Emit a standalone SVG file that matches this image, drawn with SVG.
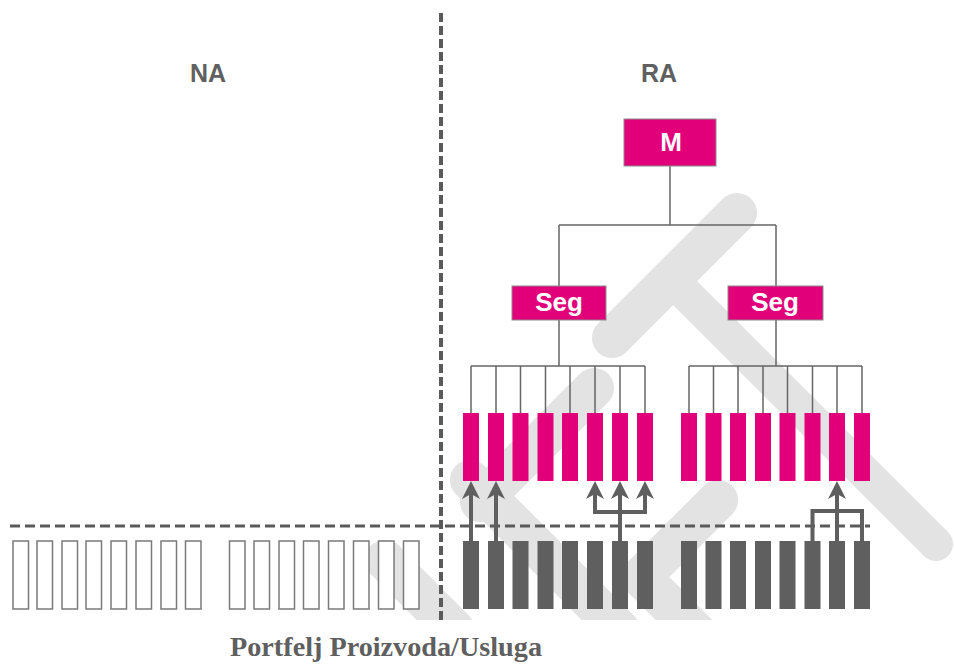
<svg xmlns="http://www.w3.org/2000/svg" width="954" height="664" viewBox="0 0 954 664">
<style>
.lbl{font-family:"Liberation Sans",Arial,sans-serif;font-weight:bold;text-anchor:middle}
.box{fill:#e2007a;stroke:#8c8c8c;stroke-width:1}
.pk{fill:#e2007a}
.dk{fill:#5f5f5f}
.ol{fill:#fff;stroke:#7a7a7a;stroke-width:1.5}
.tree{fill:none;stroke:#666;stroke-width:1.5}
.arr{fill:none;stroke:#5f5f5f;stroke-width:4}
.head{fill:#5f5f5f}
</style>
<defs>
<clipPath id="wmclip"><rect x="0" y="0" width="954" height="620"/></clipPath>
</defs>
<rect width="954" height="664" fill="#fff"/>
<g id="watermark" fill="none" stroke="#e3e3e3" stroke-width="40" stroke-linecap="round" stroke-linejoin="round" clip-path="url(#wmclip)">
<path d="M737,213 L612,338"/>
<path d="M670,278 L936,544" stroke-width="34"/>
<path d="M594,388 L480,502"/>
<path d="M470,480 L620,630"/>
<path d="M385,560 L455,630"/>
<path d="M718,500 L641,577 L700,636"/>
</g>
<g id="dividers" fill="none" stroke="#5a5a5a">
<path d="M441,13 V620" stroke-width="4" stroke-dasharray="9 4"/>
<path d="M10,526 H870" stroke-width="3" stroke-dasharray="10 5"/>
</g>
<g id="labels" fill="#606060">
<text class="lbl" x="208" y="82" font-size="25">NA</text>
<text class="lbl" x="659" y="82" font-size="25">RA</text>
</g>
<g id="connectors">
<path class="tree" d="M670,166 V225 M559,225 H776 M559,225 V286 M776,225 V286 M559,320 V366 M776,320 V366 M471,366 H645 M689,366 H862"/>
<path class="tree" d="M471,366 V413 M496,366 V413 M520.5,366 V413 M545.5,366 V413 M570,366 V413 M595,366 V413 M620,366 V413 M645,366 V413 M689,366 V413 M713.5,366 V413 M738,366 V413 M763,366 V413 M787.5,366 V413 M812.5,366 V413 M837,366 V413 M862,366 V413"/>
<path class="arr" d="M471,541 V492 M496,541 V492 M620,541 V492 M595,492 V512 H645 V492 M837,541 V492 M812.5,541 V511 H862 V541"/>
<path class="head" d="M471,481 L480,499 L471,494 L462,499 Z M496,481 L505,499 L496,494 L487,499 Z M595,481 L604,499 L595,494 L586,499 Z M620,481 L629,499 L620,494 L611,499 Z M645,481 L654,499 L645,494 L636,499 Z M837,481 L846,499 L837,494 L828,499 Z"/>
</g>
<g id="node-M"><rect class="box" x="624" y="119" width="92" height="47"/><text class="lbl" x="671" y="151" font-size="26" fill="#fff">M</text></g>
<g id="node-SegL"><rect class="box" x="512" y="286" width="94" height="34"/><text class="lbl" x="559" y="311" font-size="26" fill="#fff">Seg</text></g>
<g id="node-SegR"><rect class="box" x="728" y="286" width="95" height="34"/><text class="lbl" x="775" y="311" font-size="26" fill="#fff">Seg</text></g>
<g id="pink-bars">
<rect class="pk" x="463" y="413" width="16" height="68"/>
<rect class="pk" x="488" y="413" width="16" height="68"/>
<rect class="pk" x="512.5" y="413" width="16" height="68"/>
<rect class="pk" x="537.5" y="413" width="16" height="68"/>
<rect class="pk" x="562" y="413" width="16" height="68"/>
<rect class="pk" x="587" y="413" width="16" height="68"/>
<rect class="pk" x="612" y="413" width="16" height="68"/>
<rect class="pk" x="637" y="413" width="16" height="68"/>
<rect class="pk" x="681" y="413" width="16" height="68"/>
<rect class="pk" x="705.5" y="413" width="16" height="68"/>
<rect class="pk" x="730" y="413" width="16" height="68"/>
<rect class="pk" x="755" y="413" width="16" height="68"/>
<rect class="pk" x="779.5" y="413" width="16" height="68"/>
<rect class="pk" x="804.5" y="413" width="16" height="68"/>
<rect class="pk" x="829" y="413" width="16" height="68"/>
<rect class="pk" x="854" y="413" width="16" height="68"/>
</g>
<g id="dark-bars">
<rect class="dk" x="463" y="541" width="16" height="68"/>
<rect class="dk" x="488" y="541" width="16" height="68"/>
<rect class="dk" x="512.5" y="541" width="16" height="68"/>
<rect class="dk" x="537.5" y="541" width="16" height="68"/>
<rect class="dk" x="562" y="541" width="16" height="68"/>
<rect class="dk" x="587" y="541" width="16" height="68"/>
<rect class="dk" x="612" y="541" width="16" height="68"/>
<rect class="dk" x="637" y="541" width="16" height="68"/>
<rect class="dk" x="681" y="541" width="16" height="68"/>
<rect class="dk" x="705.5" y="541" width="16" height="68"/>
<rect class="dk" x="730" y="541" width="16" height="68"/>
<rect class="dk" x="755" y="541" width="16" height="68"/>
<rect class="dk" x="779.5" y="541" width="16" height="68"/>
<rect class="dk" x="804.5" y="541" width="16" height="68"/>
<rect class="dk" x="829" y="541" width="16" height="68"/>
<rect class="dk" x="854" y="541" width="16" height="68"/>
</g>
<g id="outline-bars">
<rect class="ol" x="13" y="541" width="15.5" height="68"/>
<rect class="ol" x="37" y="541" width="15.5" height="68"/>
<rect class="ol" x="62" y="541" width="15.5" height="68"/>
<rect class="ol" x="86" y="541" width="15.5" height="68"/>
<rect class="ol" x="111" y="541" width="15.5" height="68"/>
<rect class="ol" x="136" y="541" width="15.5" height="68"/>
<rect class="ol" x="161" y="541" width="15.5" height="68"/>
<rect class="ol" x="185.5" y="541" width="15.5" height="68"/>
<rect class="ol" x="229.5" y="541" width="15.5" height="68"/>
<rect class="ol" x="254" y="541" width="15.5" height="68"/>
<rect class="ol" x="279" y="541" width="15.5" height="68"/>
<rect class="ol" x="303.5" y="541" width="15.5" height="68"/>
<rect class="ol" x="328.5" y="541" width="15.5" height="68"/>
<rect class="ol" x="353.5" y="541" width="15.5" height="68"/>
<rect class="ol" x="378.5" y="541" width="15.5" height="68"/>
<rect class="ol" x="403.5" y="541" width="15.5" height="68"/>
</g>
<g id="caption">
<text x="386" y="656" font-family="'Liberation Serif','Times New Roman',serif" font-size="27" font-weight="bold" fill="#5f5f5f" text-anchor="middle" textLength="312" lengthAdjust="spacingAndGlyphs">Portfelj Proizvoda/Usluga</text>
</g>
</svg>
